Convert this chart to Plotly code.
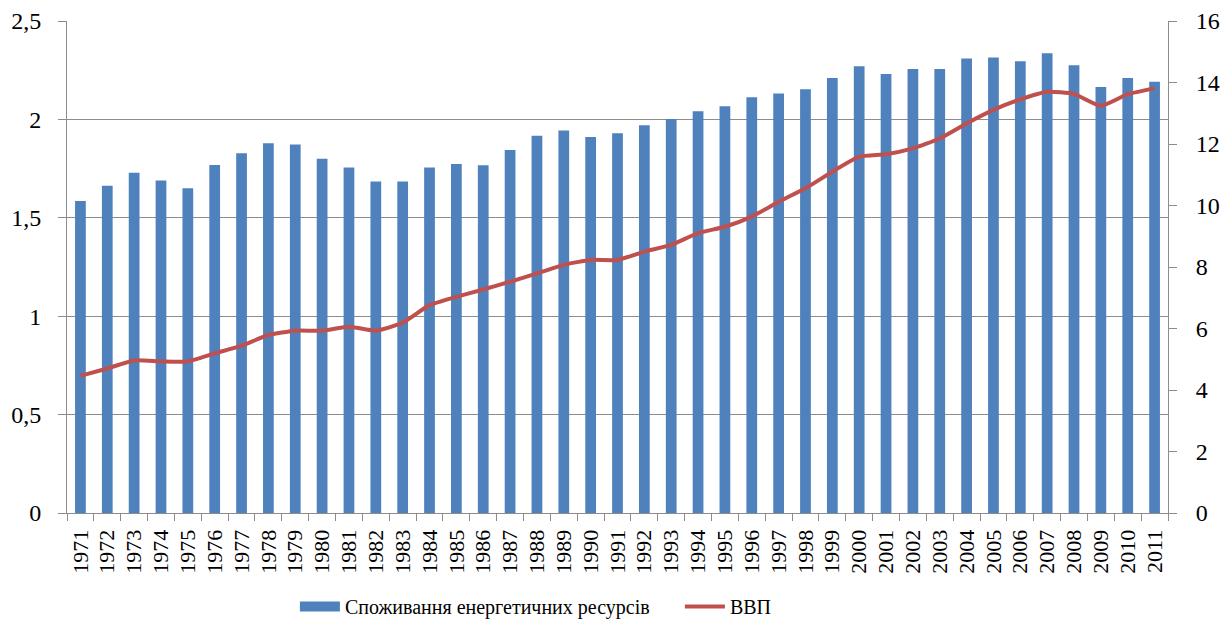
import plotly.graph_objects as go

years = [str(y) for y in range(1971, 2012)]
energy = [1.585, 1.663, 1.729, 1.690, 1.650, 1.768, 1.828, 1.879, 1.873, 1.800,
          1.755, 1.684, 1.684, 1.755, 1.773, 1.767, 1.845, 1.917, 1.943, 1.911,
          1.929, 1.970, 2.002, 2.041, 2.067, 2.112, 2.131, 2.153, 2.210, 2.270,
          2.231, 2.256, 2.256, 2.309, 2.315, 2.295, 2.336, 2.275, 2.165, 2.210,
          2.191]
gdp = [4.46, 4.70, 4.96, 4.93, 4.93, 5.19, 5.44, 5.79, 5.93, 5.93,
       6.06, 5.93, 6.19, 6.76, 7.03, 7.27, 7.52, 7.79, 8.07, 8.23,
       8.23, 8.50, 8.72, 9.10, 9.31, 9.64, 10.12, 10.56, 11.10, 11.59,
       11.67, 11.86, 12.18, 12.67, 13.11, 13.45, 13.70, 13.63, 13.24, 13.62,
       13.81]
left_ticks = [0, 0.5, 1, 1.5, 2, 2.5]
left_labels = ["0", "0,5", "1", "1,5", "2", "2,5"]
right_ticks = [0, 2, 4, 6, 8, 10, 12, 14, 16]

name_bar = "Споживання енергетичних ресурсів"
name_line = "ВВП"

BLUE = "#4F81BD"
RED = "#C0504D"
GRID = "#8C8C8C"
FONT = "'Liberation Serif', 'Times New Roman', serif"

fig = go.Figure()
fig.add_trace(go.Bar(x=years, y=energy, name=name_bar, marker_color=BLUE,
                     marker_line_width=0, showlegend=False, yaxis="y"))
# legend entry for bars drawn as a wide rectangle
fig.add_trace(go.Scatter(x=[years[0]], y=[None], name=name_bar, mode="lines",
                         line=dict(color=BLUE, width=12), yaxis="y"))
fig.add_trace(go.Scatter(x=years, y=gdp, name=name_line, mode="lines",
                         line=dict(color=RED, width=4, shape="spline", smoothing=0.5),
                         yaxis="y2"))

# page body has an 8px margin, so the figure is 8px smaller and margins shifted
fig.update_layout(
    width=1224, height=624,
    margin=dict(l=59, r=64, t=13, b=119, autoexpand=False),
    paper_bgcolor="white", plot_bgcolor="white",
    font=dict(family=FONT, color="black", size=22),
    bargap=0.6,
    xaxis=dict(type="category", tickangle=-90, tickson="boundaries",
               ticks="outside", ticklen=7, tickcolor=GRID, automargin=False,
               showline=True, linecolor=GRID, linewidth=1,
               showgrid=False, tickfont=dict(size=22, family=FONT),
               ticklabelstandoff=7),
    yaxis=dict(range=[0, 2.5], tickvals=left_ticks, ticktext=left_labels,
               ticks="outside", ticklen=8, tickcolor=GRID, automargin=False,
               showline=True, linecolor=GRID, linewidth=1,
               showgrid=True, gridcolor=GRID, gridwidth=1,
               zeroline=False, tickfont=dict(size=24, family=FONT),
               ticklabelstandoff=12),
    yaxis2=dict(range=[0, 16], tickvals=right_ticks, overlaying="y", side="right",
                ticks="outside", ticklen=8, tickcolor=GRID, automargin=False,
                showline=True, linecolor=GRID, linewidth=1,
                showgrid=False, zeroline=False,
                tickfont=dict(size=24, family=FONT), ticklabelstandoff=14),
    legend=dict(orientation="h", x=0.207, xanchor="left", y=-0.19, yanchor="middle",
                font=dict(size=20, family=FONT), itemwidth=40,
                entrywidth=330, entrywidthmode="pixels",
                bgcolor="rgba(0,0,0,0)"),
)

fig.write_html("out.html")
